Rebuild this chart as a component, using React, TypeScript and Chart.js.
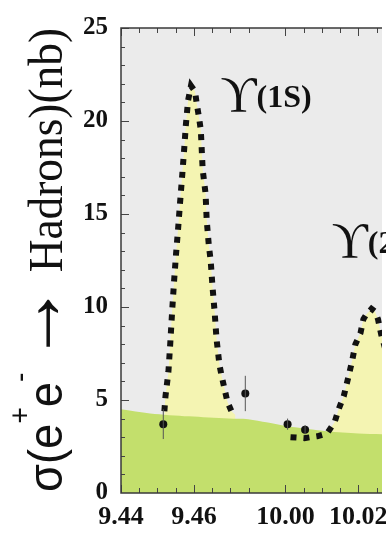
import React, { useEffect, useRef } from "react";
import { Chart, registerables } from "chart.js";

Chart.register(...registerables);

// ---------------- data ----------------
const xTickMasses = [9.44, 9.46, 10.0, 10.02];
const xTickLabels = ["9.44", "9.46", "10.00", "10.02"];
const xMinorMasses = [9.445, 9.45, 9.455, 9.465, 9.47, 9.475, 10.005, 10.01, 10.015, 10.025];
const yMajorTicks = [0, 5, 10, 15, 20, 25];
const yMinorTicks = [1, 2, 3, 4, 6, 7, 8, 9, 11, 12, 13, 14, 16, 17, 18, 19, 21, 22, 23, 24];

// fit curve, Upsilon(1S)
const fit1SMass = [9.4519, 9.4522, 9.453, 9.4535, 9.4541, 9.4546, 9.4551, 9.4557, 9.4562, 9.4568, 9.4573, 9.4578, 9.4584, 9.4592, 9.4603, 9.4608, 9.4614, 9.4619, 9.4624, 9.4632, 9.4635, 9.4641, 9.4646, 9.4651, 9.4657, 9.4662, 9.467, 9.4676, 9.4684, 9.4692, 9.4703, 9.4714];
const fit1SSigma = [4.4, 5.2, 6.5, 8.0, 10.0, 11.5, 12.85, 14.3, 15.6, 17.1, 18.4, 19.8, 21.1, 21.9, 21.6, 20.9, 20.2, 19.5, 17.4, 16.1, 14.7, 13.3, 12.5, 11.1, 9.7, 8.3, 6.9, 6.3, 5.6, 4.9, 4.4, 4.2];

// fit curve, Upsilon(2S)
const fit2SMass = [10.0014, 10.0052, 10.0087, 10.0114, 10.0135, 10.0146, 10.016, 10.0168, 10.0176, 10.0184, 10.0192, 10.0206, 10.0214, 10.0222, 10.0236, 10.0246, 10.0254, 10.0263, 10.0276];
const fit2SSigma = [3.0, 2.95, 3.05, 3.2, 3.8, 4.5, 5.2, 5.85, 6.5, 7.2, 8.0, 8.6, 9.35, 9.6, 9.9, 9.75, 9.35, 8.5, 7.6];

// continuum background
const bgMass = [9.44, 9.448, 9.4586, 9.4695, 9.4749, 10.0006, 10.0114, 10.02, 10.0275];
const bgSigma = [4.5, 4.28, 4.12, 4.0, 3.96, 3.59, 3.32, 3.2, 3.16];

// measured points
const dataMass = [9.4516, 9.4741, 10.0006, 10.0054];
const dataSigma = [3.7, 5.35, 3.7, 3.4];
const dataErr = [0.8, 0.95, 0.3, 0.25];

// resonance labels
const peakLabelText = ["(1S)", "(2S)"];
const peakLabelMass = [9.4673, 10.0127];
const peakLabelSigma = [20.56, 12.69];

// ---------------- helpers ----------------
const SERIF = '"Liberation Serif", "DejaVu Serif", "Times New Roman", serif';
const SANS = '"Liberation Sans", "DejaVu Sans", Arial, sans-serif';
const GRAY = "#ebebeb";
const GREEN = "#c3df6c";
const YELLOW = "#f4f4b2";
const INK = "#111111";

// broken mass axis: 9.44..9.48 then 10.00..
const toAxis = (m: number) => (m < 9.7 ? (m - 9.44) * 100 : (m - 10.0) * 100 + 4.51);
const pts = (ms: number[], ss: number[]) => ms.map((m, i) => ({ x: toAxis(m), y: ss[i] }));

const plotBg = {
  id: "plotBg",
  beforeDraw(chart: any) {
    const { ctx, chartArea: a } = chart;
    ctx.save();
    ctx.fillStyle = "#ffffff";
    ctx.fillRect(0, 0, chart.width, chart.height);
    ctx.fillStyle = GRAY;
    ctx.fillRect(a.left, a.top, a.right - a.left, a.bottom - a.top);
    ctx.restore();
  },
};

const decorations = {
  id: "decorations",
  afterDatasetsDraw(chart: any) {
    const { ctx, chartArea: a } = chart;
    const xs = chart.scales.x;
    const ys = chart.scales.y;
    ctx.save();
    ctx.beginPath();
    ctx.rect(a.left, a.top, a.right - a.left, a.bottom - a.top);
    ctx.clip();
    // error bars
    ctx.strokeStyle = "#555";
    ctx.lineWidth = 1;
    dataMass.forEach((m, i) => {
      const px = xs.getPixelForValue(toAxis(m));
      ctx.beginPath();
      ctx.moveTo(px, ys.getPixelForValue(dataSigma[i] - dataErr[i]));
      ctx.lineTo(px, ys.getPixelForValue(dataSigma[i] + dataErr[i]));
      ctx.stroke();
    });
    // ticks
    ctx.strokeStyle = "#444";
    ctx.lineWidth = 1;
    const tickY = (v: number, len: number) => {
      const py = Math.round(ys.getPixelForValue(v)) + 0.5;
      ctx.beginPath();
      ctx.moveTo(a.left, py);
      ctx.lineTo(a.left + len, py);
      ctx.stroke();
    };
    yMajorTicks.forEach((v) => tickY(v, 8));
    yMinorTicks.forEach((v) => tickY(v, 4));
    const tickX = (m: number, len: number) => {
      const px = Math.round(xs.getPixelForValue(toAxis(m))) + 0.5;
      ctx.beginPath();
      ctx.moveTo(px, a.bottom);
      ctx.lineTo(px, a.bottom - len);
      ctx.moveTo(px, a.top);
      ctx.lineTo(px, a.top + len);
      ctx.stroke();
    };
    xTickMasses.forEach((m) => tickX(m, 8));
    xMinorMasses.forEach((m) => tickX(m, 5));
    ctx.restore();

    // frame
    ctx.save();
    ctx.strokeStyle = "#3a3a3a";
    ctx.lineWidth = 1.5;
    ctx.beginPath();
    ctx.moveTo(a.right, a.top);
    ctx.lineTo(a.left, a.top);
    ctx.lineTo(a.left, a.bottom);
    ctx.lineTo(a.right, a.bottom);
    ctx.stroke();
    ctx.restore();

    // resonance labels
    ctx.save();
    ctx.fillStyle = INK;
    ctx.textBaseline = "alphabetic";
    peakLabelText.forEach((t, i) => {
      const px = xs.getPixelForValue(toAxis(peakLabelMass[i]));
      const py = ys.getPixelForValue(peakLabelSigma[i]);
      ctx.font = `50px ${SERIF}`;
      ctx.fillText("\u03D2", px, py);
      const w = ctx.measureText("\u03D2").width;
      ctx.font = `bold 32px ${SERIF}`;
      ctx.fillText(t, px + w, py - 4);
    });
    ctx.restore();
  },
  afterDraw(chart: any) {
    const ctx = chart.ctx;
    const parts = [
      { t: "\u03C3(e", f: `48px ${SANS}`, up: 0 },
      { t: "+", f: `30px ${SANS}`, up: 32 },
      { t: "e", f: `48px ${SANS}`, up: 0 },
      { t: "-", f: `30px ${SANS}`, up: 32 },
      { t: " ", f: `40px ${SERIF}`, up: 0 },
      { t: "\u2192", f: `84px ${SERIF}`, up: 0 },
      { t: " Hadrons)(nb)", f: `48px ${SERIF}`, up: 0 },
    ];
    ctx.save();
    let W = 0;
    for (const p of parts) {
      ctx.font = p.f;
      W += ctx.measureText(p.t).width;
    }
    const s = 464 / W;
    ctx.translate(62, 492);
    ctx.rotate(-Math.PI / 2);
    ctx.scale(s, 1);
    ctx.fillStyle = INK;
    ctx.textBaseline = "alphabetic";
    let x = 0;
    for (const p of parts) {
      ctx.font = p.f;
      ctx.fillText(p.t, x, -p.up);
      x += ctx.measureText(p.t).width;
    }
    ctx.restore();
  },
};

export default function App() {
  const ref = useRef<HTMLCanvasElement | null>(null);
  useEffect(() => {
    if (!ref.current) return;
    const dotted = {
      borderColor: INK,
      borderWidth: 6,
      borderDash: [6, 7],
      borderCapStyle: "butt" as const,
      pointRadius: 0,
      fill: false,
      tension: 0,
    };
    const chart = new Chart(ref.current, {
      type: "line",
      data: {
        datasets: [
          { label: "points", type: "scatter", data: pts(dataMass, dataSigma), pointRadius: 4, pointBackgroundColor: INK, pointBorderWidth: 0, order: 1 } as any,
          { label: "fit1S", data: pts(fit1SMass, fit1SSigma), ...dotted, order: 2 },
          { label: "fit2S", data: pts(fit2SMass, fit2SSigma), ...dotted, order: 2 },
          { label: "bg", data: pts(bgMass, bgSigma), borderWidth: 0, pointRadius: 0, fill: "origin", backgroundColor: GREEN, tension: 0.3, order: 3 },
          { label: "fill1S", data: pts(fit1SMass, fit1SSigma), borderWidth: 0, pointRadius: 0, fill: "origin", backgroundColor: YELLOW, order: 4 },
          { label: "fill2S", data: pts(fit2SMass, fit2SSigma), borderWidth: 0, pointRadius: 0, fill: "origin", backgroundColor: YELLOW, order: 4 },
        ],
      },
      options: {
        animation: false,
        responsive: false,
        maintainAspectRatio: false,
        layout: { padding: { top: 25, left: 0, right: 0, bottom: 0 } },
        plugins: { legend: { display: false }, tooltip: { enabled: false }, title: { display: false } },
        scales: {
          x: {
            type: "linear",
            min: 0,
            max: 7.16,
            grid: { display: false, drawTicks: false },
            border: { display: false },
            ticks: {
              autoSkip: false,
              maxRotation: 0,
              padding: 9,
              color: INK,
              font: { family: SERIF, size: 26, weight: "bold" },
              callback: (_v: any, i: number) => xTickLabels[i],
            },
            afterBuildTicks: (scale: any) => {
              scale.ticks = xTickMasses.map((m) => ({ value: toAxis(m) }));
            },
            afterFit: (scale: any) => {
              scale.height = 48;
              scale.paddingLeft = 0;
              scale.paddingRight = 0;
            },
          },
          y: {
            min: 0,
            max: 25,
            grid: { display: false, drawTicks: false },
            border: { display: false },
            ticks: { stepSize: 5, padding: 13, color: INK, font: { family: SERIF, size: 25, weight: "bold" } },
            afterFit: (scale: any) => {
              scale.width = 121;
            },
          },
        },
      } as any,
      plugins: [plotBg, decorations],
    });
    return () => chart.destroy();
  }, []);
  return (
    <div style={{ position: "absolute", left: 0, top: 0, width: 386, height: 541, background: "#fff" }}>
      <canvas ref={ref} width={386} height={541} style={{ display: "block" }} />
    </div>
  );
}
